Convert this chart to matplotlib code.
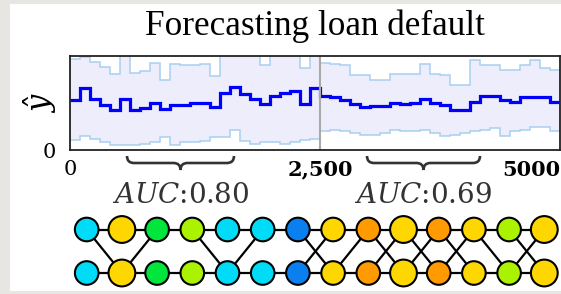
import matplotlib
matplotlib.use('Agg')
import matplotlib.pyplot as plt
import matplotlib.patches as mpatches
import matplotlib.transforms as mtransforms
from matplotlib.path import Path
import numpy as np

plt.rcParams['mathtext.fontset'] = 'dejavuserif'

# predicted default rate per bin of 100 loans (mean and spread)
bin_width = 100
y_mean = [0.53, 0.66, 0.54, 0.48, 0.43, 0.54, 0.43, 0.45, 0.50, 0.44,
          0.48, 0.48, 0.50, 0.50, 0.46, 0.61, 0.67, 0.60, 0.54, 0.49,
          0.57, 0.61, 0.63, 0.49, 0.66, 0.57, 0.56, 0.53, 0.49, 0.46,
          0.47, 0.47, 0.50, 0.49, 0.50, 0.54, 0.50, 0.48, 0.43, 0.43,
          0.51, 0.57, 0.57, 0.53, 0.51, 0.56, 0.56, 0.56, 0.51]
y_upper = [0.97, 0.99, 0.94, 0.88, 0.81, 1.05, 0.82, 0.84, 0.93, 0.75,
           0.92, 0.90, 0.90, 0.92, 0.79, 1.05, 1.05, 1.05, 1.05, 0.90,
           1.05, 1.05, 1.05, 0.87, 1.05, 0.93, 0.92, 0.90, 0.80, 0.80,
           0.74, 0.75, 0.81, 0.81, 0.81, 0.92, 0.81, 0.80, 0.69, 0.69,
           0.96, 0.90, 0.90, 0.85, 0.85, 0.90, 0.96, 0.87, 0.85]
y_lower = [0.11, 0.15, 0.12, 0.09, 0.05, 0.05, 0.05, 0.06, 0.08, 0.14,
           0.05, 0.09, 0.09, 0.10, 0.14, 0.14, 0.21, 0.10, 0.06, 0.08,
           0.09, 0.06, 0.09, 0.11, 0.12, 0.20, 0.21, 0.20, 0.18, 0.16,
           0.16, 0.18, 0.21, 0.20, 0.20, 0.21, 0.18, 0.15, 0.16, 0.18,
           0.20, 0.21, 0.23, 0.15, 0.20, 0.21, 0.24, 0.25, 0.20]
split_at = 2500
x_ticks = [0, 2500, 4610]
x_tick_labels = ['0', '2,500', '5000']
auc_spans = [(570, 1640), (2970, 4100)]
auc_values = ['0.80', '0.69']

# graph below the chart
palette = {'cyan': '#00dcf8', 'yellow': '#ffd700', 'green': '#00e63c',
           'lime': '#aaf200', 'blue': '#0a80f0', 'orange': '#ff9a00'}
node_colors = ['cyan', 'yellow', 'green', 'lime', 'cyan', 'cyan', 'blue',
               'yellow', 'orange', 'yellow', 'orange', 'yellow', 'lime', 'yellow']
node_big = [0, 1, 0, 0, 0, 0, 0, 0, 0, 1, 0, 0, 0, 1]
cross_edges = [(0, 1), (2, 1), (3, 4), (5, 4), (6, 7), (7, 6), (8, 7),
               (8, 9), (9, 8), (9, 10), (10, 9), (10, 11), (11, 10),
               (11, 12), (12, 13), (13, 12)]

W, H = 561, 294
fig = plt.figure(figsize=(W / 100, H / 100), dpi=100, facecolor='#e8e6e2')

canvas = fig.add_axes([0, 0, 1, 1], zorder=0)
canvas.set_xlim(0, W)
canvas.set_ylim(H, 0)
canvas.axis('off')
canvas.add_patch(mpatches.Rectangle((10, 4), W - 10, 287, facecolor='white',
                                    edgecolor='none', zorder=0))

ax = fig.add_axes([70 / W, (H - 150) / H, 490 / W, 94 / H], zorder=1)
edges = np.arange(len(y_mean) + 1) * bin_width
ax.stairs(y_upper, edges, baseline=y_lower, fill=True, color='#ededfb', lw=0)
ax.stairs(y_upper, edges, baseline=None, color='#a8d0f0', lw=1.1)
ax.stairs(y_lower, edges, baseline=None, color='#a8d0f0', lw=1.1)
ax.stairs(y_mean, edges, baseline=None, color='#0000ff', lw=2.3)
ax.axvline(split_at, color='#a9a9a9', lw=1.5)
ax.set_xlim(edges[0], edges[-1])
ax.set_ylim(0, 1)
for s in ax.spines.values():
    s.set_color('#222222')
    s.set_linewidth(1.3)

ax.set_xticks(x_ticks)
ax.set_xticklabels(x_tick_labels, family='DejaVu Serif', fontsize=15)
for lab in ax.get_xticklabels()[1:]:
    lab.set_fontweight('bold')
ax.set_yticks([0])
ax.set_yticklabels(['0'], family='DejaVu Serif', fontsize=15)
ax.tick_params(axis='x', length=0, pad=7)
ax.tick_params(axis='y', length=0, pad=10)

canvas.text(40, 103, r'$\hat{y}$', fontsize=22, rotation=90,
            ha='center', va='center')
canvas.text(315, 35, 'Forecasting loan default', family='Liberation Serif',
            fontsize=25.3, ha='center', va='baseline')

# braces under the two test windows
tr = mtransforms.blended_transform_factory(ax.transData, canvas.transData)
top, mid, tip = 156, 163, 170
for (x0, x1), auc in zip(auc_spans, auc_values):
    c = (x0 + x1) / 2
    q = 70
    verts = [(x0, top), (x0, mid), (x0 + q, mid), (c - q, mid), (c, mid), (c, tip),
             (c, mid), (c + q, mid), (x1 - q, mid), (x1, mid), (x1, top)]
    codes = [Path.MOVETO, Path.CURVE3, Path.CURVE3, Path.LINETO, Path.CURVE3, Path.CURVE3,
             Path.CURVE3, Path.CURVE3, Path.LINETO, Path.CURVE3, Path.CURVE3]
    canvas.add_patch(mpatches.PathPatch(Path(verts, codes), transform=tr, fill=False,
                                         edgecolor='#333333', lw=1.9, clip_on=False))
    canvas.text(c, 203, '$AUC$:' + auc, transform=tr, family='DejaVu Serif',
                fontsize=20, ha='center', va='baseline', color='#333333')

# two-row graph
x0n, dx = 86.7, 35.2
row_y = [229.5, 273]
n = len(node_colors)
for y in row_y:
    canvas.plot([x0n, x0n + dx * (n - 1)], [y, y], color='black', lw=1.6, zorder=2)
for a, b in cross_edges:
    canvas.plot([x0n + dx * a, x0n + dx * b], row_y, color='black', lw=1.6, zorder=2)
for i, cname in enumerate(node_colors):
    r = 13.4 if node_big[i] else 11.8
    for y in row_y:
        canvas.add_patch(mpatches.Circle((x0n + dx * i, y), r, facecolor=palette[cname],
                                         edgecolor='black', lw=1.5, zorder=3))

fig.savefig('out.png', dpi=100, facecolor=fig.get_facecolor())
